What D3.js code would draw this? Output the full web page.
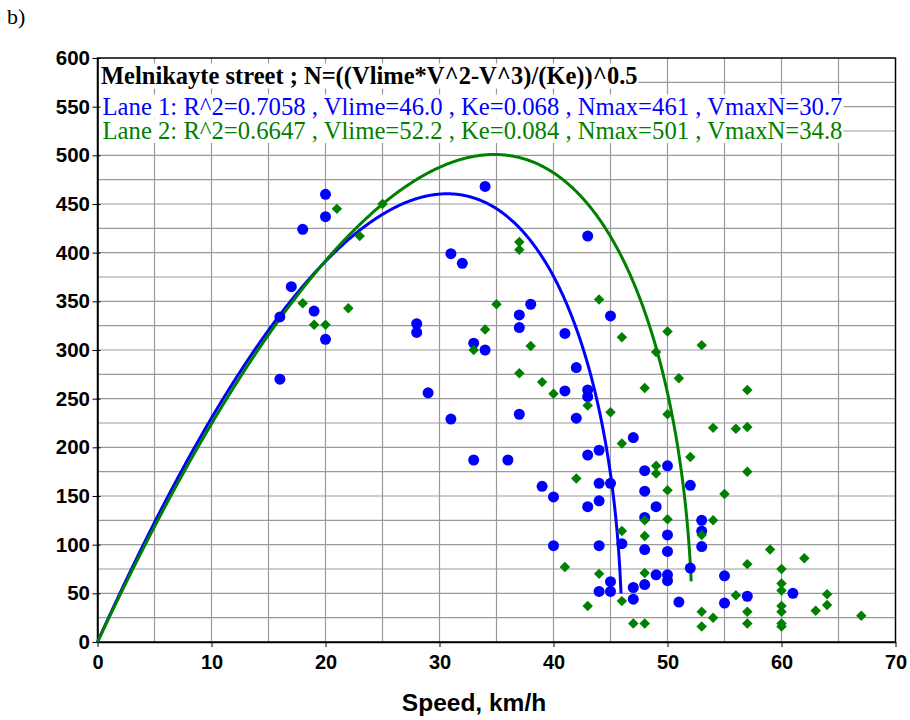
<!DOCTYPE html>
<html>
<head>
<meta charset="utf-8">
<script src="https://cdn.jsdelivr.net/npm/d3@7"></script>
<style>
  body { margin: 0; background: #fff; }
  svg { display: block; }
</style>
</head>
<body>
<div id="chart"></div>
<script>
// scatter data, lane 1 (blue circles)
const lane1_speed = [20, 20, 18, 17, 16, 19, 20, 16, 34, 31, 32, 28, 28, 29, 33, 34, 38, 37, 37, 31,
    37, 43, 33, 36, 39, 40, 40, 41, 41, 42, 42, 43, 43, 45, 43, 44, 44, 45, 44, 43,
    44, 46, 45, 44, 45, 47, 48, 50, 48, 49, 52, 48, 50, 48, 50, 53, 53, 53, 52, 49,
    50, 50, 48, 47, 47, 51, 55, 55, 57, 61];
const lane1_flow = [460, 437, 424, 365, 334, 340, 311, 270, 468, 399, 389, 327, 318, 256, 307, 300, 347, 336, 323, 229,
    234, 417, 187, 187, 160, 149, 99, 317, 258, 282, 230, 259, 252, 335, 192, 197, 163, 163, 145, 139,
    99, 101, 62, 52, 52, 210, 176, 181, 155, 139, 161, 128, 110, 95, 93, 125, 114, 98, 76, 69,
    69, 63, 59, 56, 44, 41, 68, 40, 47, 50];

// lane 2 (green diamonds)
const lane2_speed = [21, 25, 23, 18, 19, 20, 22, 37, 37, 35, 34, 33, 38, 37, 39, 40, 43, 45, 46, 44,
    46, 42, 46, 41, 44, 43, 46, 50, 53, 49, 51, 48, 57, 50, 54, 56, 57, 52, 49, 49,
    57, 50, 55, 48, 50, 54, 53, 48, 59, 57, 62, 60, 48, 60, 60, 64, 56, 64, 63, 60,
    60, 53, 57, 54, 67, 47, 48, 53, 57, 60, 60];
const lane2_flow = [445, 450, 417, 348, 326, 326, 343, 411, 403, 347, 321, 300, 304, 276, 267, 255, 243, 236, 313, 352,
    204, 168, 114, 77, 70, 37, 42, 319, 305, 298, 271, 261, 259, 234, 220, 219, 221, 190, 181, 173,
    175, 156, 152, 125, 126, 125, 110, 109, 95, 80, 86, 75, 71, 60, 53, 49, 48, 38, 32, 37,
    31, 31, 31, 25, 27, 19, 19, 16, 19, 19, 16];

// fitted model N=((Vlime*V^2-V^3)/Ke)^0.5
const lane_names = ["Lane 1", "Lane 2"];
const lane_r2 = ["0.7058", "0.6647"];
const lane_vlime = [46.0, 52.2];
const lane_ke = [0.068, 0.084];
const lane_nmax = [461, 501];
const lane_vmaxn = [30.7, 34.8];
const curve_end_speed = [45.92, 52.08];   // where the drawn curves stop

const x_ticks = [0, 10, 20, 30, 40, 50, 60, 70];
const y_ticks = [0, 50, 100, 150, 200, 250, 300, 350, 400, 450, 500, 550, 600];

const width = 910, height = 720;
const margin = { left: 97.5, right: 14.5, top: 58, bottom: 78 };
const blue = "#0000ff", green = "#008000";

var svg = d3.select("#chart").append("svg")
    .attr("width", width)
    .attr("height", height);

var x = d3.scaleLinear().domain([0, 70]).range([margin.left, width - margin.right]);
var y = d3.scaleLinear().domain([0, 600]).range([height - margin.bottom, margin.top]);

// grid
svg.append("g").selectAll("line").data(d3.range(5, 70, 5)).enter().append("line")
    .attr("x1", d => x(d)).attr("x2", d => x(d))
    .attr("y1", y(0)).attr("y2", y(600))
    .attr("stroke", "#9a9a9a").attr("stroke-width", 1.2);
svg.append("g").selectAll("line").data(d3.range(25, 600, 25)).enter().append("line")
    .attr("x1", x(0)).attr("x2", x(70))
    .attr("y1", d => y(d)).attr("y2", d => y(d))
    .attr("stroke", "#9a9a9a").attr("stroke-width", 1.2);

// header texts with white boxes behind
var header = svg.append("g");
var header_lines = [
    { text: "Melnikayte street ; N=((Vlime*V^2-V^3)/(Ke))^0.5", color: "#000", bold: true, size: 24.5, base: 83.5, dx: 3.5 },
    { text: lane_names[0] + ": R^2=" + lane_r2[0] + " , Vlime=" + lane_vlime[0].toFixed(1) + " , Ke=" + lane_ke[0].toFixed(3) +
        " , Nmax=" + lane_nmax[0] + " , VmaxN=" + lane_vmaxn[0].toFixed(1), color: blue, bold: false, size: 24.7, base: 114.5, dx: 5 },
    { text: lane_names[1] + ": R^2=" + lane_r2[1] + " , Vlime=" + lane_vlime[1].toFixed(1) + " , Ke=" + lane_ke[1].toFixed(3) +
        " , Nmax=" + lane_nmax[1] + " , VmaxN=" + lane_vmaxn[1].toFixed(1), color: green, bold: false, size: 24.7, base: 139, dx: 5 }
];
header_lines.forEach(function (h) {
    var r = header.append("rect").attr("fill", "white");
    var t = header.append("text")
        .attr("x", x(0) + h.dx).attr("y", h.base)
        .style("font-family", "'Liberation Serif', 'Times New Roman', serif")
        .style("font-size", h.size + "px")
        .style("font-weight", h.bold ? "bold" : "normal")
        .attr("fill", h.color)
        .text(h.text);
    var b = t.node().getBBox();
    r.attr("x", x(0) + 1).attr("y", b.y + 2).attr("width", b.width + h.dx).attr("height", b.height - 3);
});

// frame
svg.append("rect")
    .attr("x", x(0)).attr("y", y(600))
    .attr("width", x(70) - x(0)).attr("height", y(0) - y(600))
    .attr("fill", "none").attr("stroke", "#000").attr("stroke-width", 1.5);

// axes
var x_axis = d3.axisBottom(x).tickValues(x_ticks).tickSize(5).tickSizeOuter(0);
var gx = svg.append("g").attr("transform", "translate(0," + y(0) + ")").call(x_axis);
gx.select(".domain").attr("stroke-width", 1.5);
gx.selectAll("text")
    .attr("y", 27).attr("dy", null)
    .style("font-family", "'Liberation Sans', Arial, sans-serif")
    .style("font-size", "20px").style("font-weight", "bold").attr("fill", "#000");

var y_axis = d3.axisLeft(y).tickValues(y_ticks).tickSize(4).tickSizeOuter(0);
var gy = svg.append("g").attr("transform", "translate(" + x(0) + ",0)").call(y_axis);
gy.select(".domain").attr("stroke-width", 1.5);
gy.selectAll(".tick line").attr("x2", -5).attr("x1", 3);
gy.selectAll("text")
    .attr("x", -7.5)
    .style("font-family", "'Liberation Sans', Arial, sans-serif")
    .style("font-size", "20.5px").style("font-weight", "bold").attr("fill", "#000");

svg.append("text")
    .attr("x", 474).attr("y", 711)
    .attr("text-anchor", "middle")
    .style("font-family", "'Liberation Sans', Arial, sans-serif")
    .style("font-size", "24.5px").style("font-weight", "bold")
    .text("Speed, km/h");

svg.append("text")
    .attr("x", 7).attr("y", 23.5)
    .style("font-family", "'Liberation Serif', 'Times New Roman', serif")
    .style("font-size", "22px")
    .text("b)");

// fitted curves
var line = d3.line().x(d => x(d[0])).y(d => y(d[1]));
[blue, green].forEach(function (color, i) {
    var pts = d3.range(0, curve_end_speed[i], 0.05).concat([curve_end_speed[i]]).map(function (v) {
        var n2 = (lane_vlime[i] * v * v - v * v * v) / lane_ke[i];
        return [v, Math.sqrt(Math.max(n2, 0))];
    });
    svg.append("path").datum(pts)
        .attr("d", line)
        .attr("fill", "none")
        .attr("stroke", color)
        .attr("stroke-width", 3);
});

// points
svg.append("g").selectAll("circle").data(d3.zip(lane1_speed, lane1_flow)).enter().append("circle")
    .attr("cx", d => x(d[0])).attr("cy", d => y(d[1]))
    .attr("r", 5.5).attr("fill", blue);

var diamond = d3.symbol().type(d3.symbolDiamond2).size(70);
svg.append("g").selectAll("path").data(d3.zip(lane2_speed, lane2_flow)).enter().append("path")
    .attr("d", diamond)
    .attr("transform", d => "translate(" + x(d[0]) + "," + y(d[1]) + ")")
    .attr("fill", green);
</script>
</body>
</html>
